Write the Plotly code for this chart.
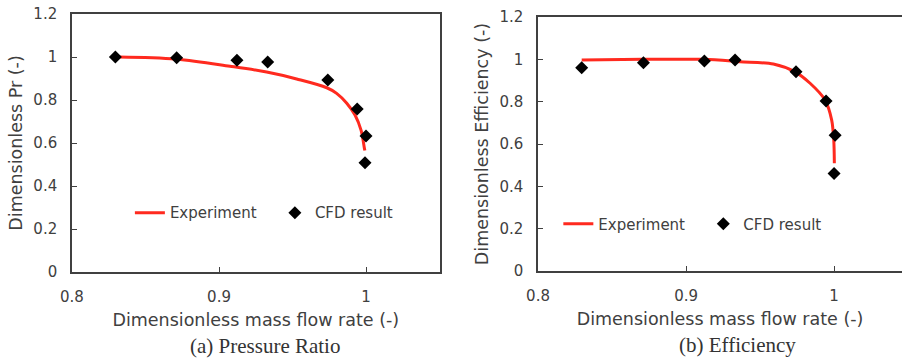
import plotly.graph_objects as go

# (a) Pressure ratio
pr_exp_x = [0.832, 0.871, 0.9075, 0.9324, 0.9528, 0.9733, 0.980, 0.9869, 0.9925, 0.9966, 0.9989, 0.9992]
pr_exp_y = [1.000, 0.990, 0.957, 0.930, 0.898, 0.857, 0.831, 0.785, 0.730, 0.660, 0.575, 0.565]
pr_cfd_x = [0.8295, 0.8712, 0.9122, 0.9331, 0.974, 0.994, 1.000, 0.9993]
pr_cfd_y = [1.000, 0.997, 0.985, 0.977, 0.893, 0.758, 0.633, 0.508]

# (b) Efficiency
eff_exp_x = [0.8295, 0.871, 0.912, 0.9365, 0.959, 0.9736, 0.9838, 0.9939, 0.9984, 0.9998, 1.0002]
eff_exp_y = [0.997, 1.000, 1.000, 0.989, 0.978, 0.941, 0.887, 0.808, 0.713, 0.619, 0.509]
eff_cfd_x = [0.8295, 0.8712, 0.9124, 0.9331, 0.9743, 0.9946, 1.0007, 1.000]
eff_cfd_y = [0.960, 0.984, 0.992, 0.997, 0.941, 0.803, 0.642, 0.461]

x_ticks = [0.8, 0.9, 1.0]
x_tick_text = ["0.8", "0.9", "1"]
y_ticks = [0, 0.2, 0.4, 0.6, 0.8, 1.0, 1.2]
y_tick_text = ["0", "0.2", "0.4", "0.6", "0.8", "1", "1.2"]

RED = "#ff2a1f"
AX = "#404040"
FONT = "DejaVu Sans"

fig = go.Figure()

fig.add_trace(go.Scatter(x=pr_exp_x, y=pr_exp_y, mode="lines", name="Experiment",
                         line=dict(color=RED, width=3, shape="spline", smoothing=1.0),
                         xaxis="x", yaxis="y", legend="legend"))
fig.add_trace(go.Scatter(x=pr_cfd_x, y=pr_cfd_y, mode="markers", name="CFD result",
                         marker=dict(symbol="diamond", color="black", size=10),
                         xaxis="x", yaxis="y", legend="legend"))
fig.add_trace(go.Scatter(x=eff_exp_x, y=eff_exp_y, mode="lines", name="Experiment",
                         line=dict(color=RED, width=3, shape="spline", smoothing=0.8),
                         xaxis="x2", yaxis="y2", legend="legend2"))
fig.add_trace(go.Scatter(x=eff_cfd_x, y=eff_cfd_y, mode="markers", name="CFD result",
                         marker=dict(symbol="diamond", color="black", size=10),
                         xaxis="x2", yaxis="y2", legend="legend2"))

common_x = dict(tickvals=x_ticks, ticktext=x_tick_text, ticks="inside", ticklen=5,
                tickcolor=AX, showline=True, linecolor=AX, linewidth=1.5,
                showgrid=False, zeroline=False, ticklabelstandoff=10, automargin=False,
                tickfont=dict(family=FONT, size=15, color=AX),
                title=dict(text="Dimensionless mass flow rate (-)",
                           font=dict(family=FONT, size=17.5, color=AX), standoff=9))
common_y = dict(tickvals=y_ticks, ticktext=y_tick_text, ticks="inside", ticklen=5,
                tickcolor=AX, showline=True, linecolor=AX, linewidth=1.5,
                showgrid=False, zeroline=False, range=[0, 1.2], ticklabelstandoff=10,
                automargin=False, tickfont=dict(family=FONT, size=15, color=AX))

fig.update_layout(
    width=902, height=359,
    margin=dict(l=0, r=0, t=0, b=0),
    paper_bgcolor="white", plot_bgcolor="white",
    xaxis=dict(common_x, domain=[0.0798, 0.4873], range=[0.8, 1.05], mirror=True, anchor="y"),
    yaxis=dict(common_y, domain=[0.2423, 0.961], mirror=True, anchor="x",
               title=dict(text="Dimensionless Pr (-)",
                          font=dict(family=FONT, size=17.5, color=AX), standoff=6)),
    xaxis2=dict(common_x, domain=[0.5965, 1.0], range=[0.8, 1.0459], mirror=True, anchor="y2"),
    yaxis2=dict(common_y, domain=[0.2451, 0.9526], mirror=False, anchor="x2",
                title=dict(text="Dimensionless Efficiency (-)",
                           font=dict(family=FONT, size=17.5, color=AX), standoff=6)),
    legend=dict(orientation="h", x=0.144, y=0.407, xanchor="left", yanchor="middle",
                bgcolor="rgba(0,0,0,0)", font=dict(family=FONT, size=15, color=AX),
                entrywidth=100, tracegroupgap=0),
    legend2=dict(orientation="h", x=0.619, y=0.376, xanchor="left", yanchor="middle",
                 bgcolor="rgba(0,0,0,0)", font=dict(family=FONT, size=15, color=AX),
                 entrywidth=100, tracegroupgap=0),
    annotations=[
        dict(text="(a) Pressure Ratio", x=265 / 902, y=1 - 346 / 359, xref="paper", yref="paper",
             xanchor="center", yanchor="middle", showarrow=False,
             font=dict(family="Liberation Serif", size=21, color="#333333")),
        dict(text="(b) Efficiency", x=737 / 902, y=1 - 345 / 359, xref="paper", yref="paper",
             xanchor="center", yanchor="middle", showarrow=False,
             font=dict(family="Liberation Serif", size=21, color="#333333")),
    ],
)

fig.write_html("out.html")
